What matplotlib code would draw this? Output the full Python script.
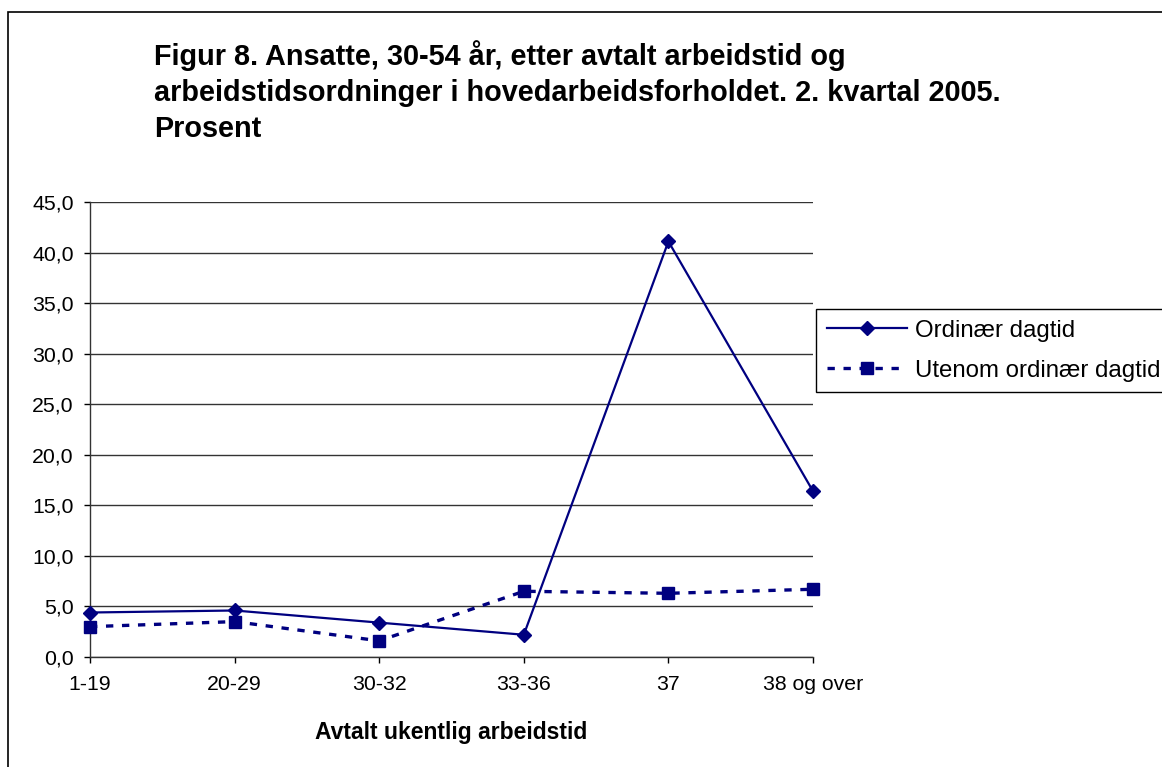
import matplotlib
matplotlib.use("Agg")
import matplotlib.pyplot as plt
from matplotlib.patches import Rectangle

categories = ["1-19", "20-29", "30-32", "33-36", "37", "38 og over"]
ordinaer = [4.4, 4.6, 3.4, 2.2, 41.1, 16.4]
utenom = [3.0, 3.5, 1.6, 6.5, 6.3, 6.7]
series_names = ["Ordinær dagtid", "Utenom ordinær dagtid"]
yticks = [0, 5, 10, 15, 20, 25, 30, 35, 40, 45]
title_lines = ["Figur 8. Ansatte, 30-54 år, etter avtalt arbeidstid og",
               "arbeidstidsordninger i hovedarbeidsforholdet. 2. kvartal 2005.",
               "Prosent"]
xlabel = "Avtalt ukentlig arbeidstid"

plt.rcParams['font.family'] = ['Liberation Sans', 'DejaVu Sans']

W, H = 1162, 767
fig = plt.figure(figsize=(W / 100, H / 100), dpi=100)
fig.patch.set_facecolor("white")

# outer chart border
fig.add_artist(Rectangle((8 / W, -0.05), 1.1, 1 - 12 / H + 0.05,
                         transform=fig.transFigure, fill=False,
                         edgecolor="black", linewidth=1.2, clip_on=False))

left, right, top, bottom = 90, 813, 202, 657
ax = fig.add_axes([left / W, 1 - bottom / H, (right - left) / W, (bottom - top) / H])

navy = "#000080"
x = list(range(len(categories)))
l1, = ax.plot(x, ordinaer, color=navy, lw=1.6, marker="D", markersize=7.5,
              label=series_names[0], zorder=4, clip_on=False)
l2, = ax.plot(x, utenom, color=navy, lw=2.4, linestyle=(0, (2.2, 2.6)),
              marker="s", markersize=9, label=series_names[1], zorder=3, clip_on=False)

ax.set_xlim(0, len(categories) - 1)
ax.set_ylim(0, 45)
ax.set_yticks(yticks)
ax.set_yticklabels([f"{v:.1f}".replace(".", ",") for v in yticks])
ax.set_xticks(x)
ax.set_xticklabels(categories)
ax.tick_params(axis="both", labelsize=15.3, colors="black", direction="out",
               length=4.3, width=1)
ax.tick_params(axis="y", pad=7.5)
ax.tick_params(axis="x", pad=9)
ax.yaxis.grid(True, color="#333333", linewidth=1)
ax.set_axisbelow(True)
for s in ["top", "right"]:
    ax.spines[s].set_visible(False)
for s in ["left", "bottom"]:
    ax.spines[s].set_color("#333333")
    ax.spines[s].set_linewidth(1)

fig.text((left + right) / 2 / W, 1 - 739 / H, xlabel, ha="center", va="baseline",
         fontsize=16.5, fontweight="bold")

ys = [65, 101, 137]
for line, yb in zip(title_lines, ys):
    fig.text(154 / W, 1 - yb / H, line, ha="left", va="baseline",
             fontsize=20.8, fontweight="bold")

leg = fig.legend(handles=[l1, l2], loc="upper left",
                 bbox_to_anchor=(816 / W, 1 - 309 / H), fontsize=17.3,
                 frameon=True, fancybox=False, edgecolor="black", framealpha=1,
                 handlelength=3.35, handletextpad=0.33, borderpad=0.44,
                 labelspacing=0.76, borderaxespad=0)
leg.get_frame().set_linewidth(1)

fig.savefig("out.png", dpi=100)
